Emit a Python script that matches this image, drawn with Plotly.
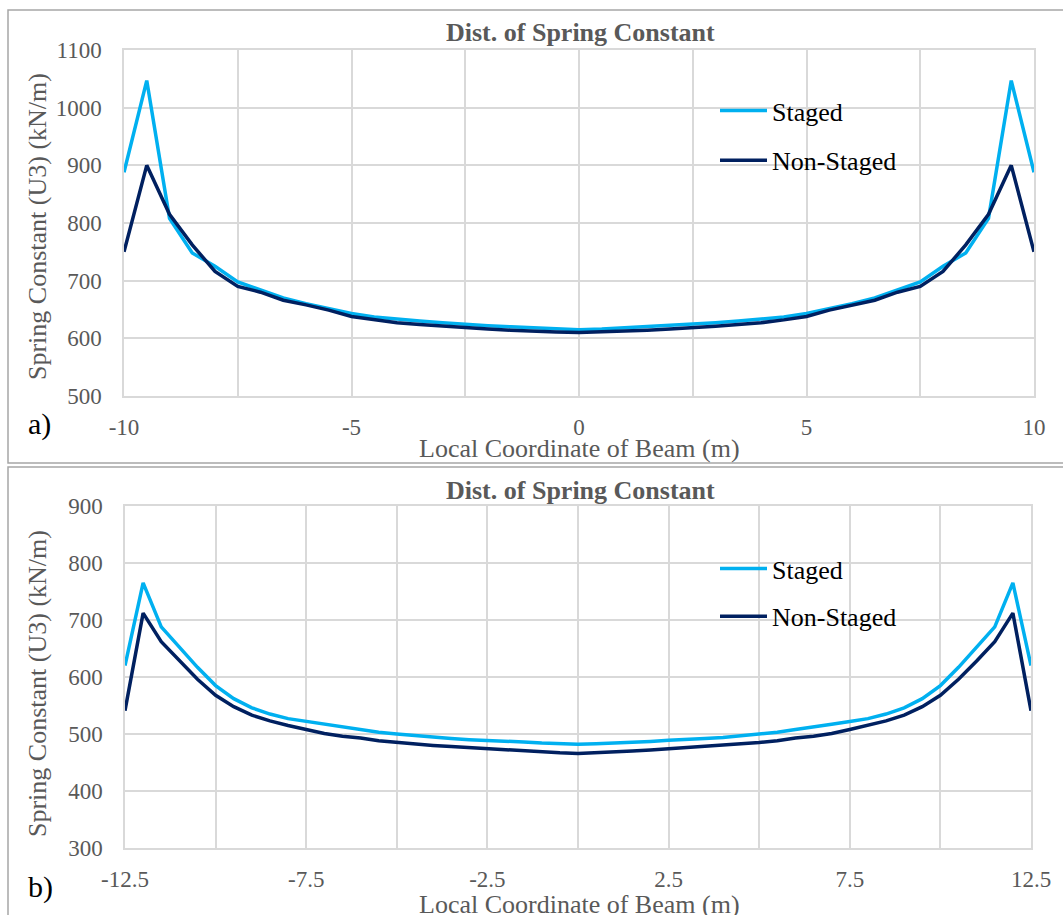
import plotly.graph_objects as go

# ---- Data (a) ----
x_a = [-10, -9.5, -9, -8.5, -8, -7.5, -7, -6.5, -6, -5.5, -5, -4.5, -4, -3.5, -3, -2.5, -2, -1.5, -1, -0.5,
       0, 0.5, 1, 1.5, 2, 2.5, 3, 3.5, 4, 4.5, 5, 5.5, 6, 6.5, 7, 7.5, 8, 8.5, 9, 9.5, 10]
staged_a = [888, 1047, 808, 748, 725, 698, 684, 670, 660, 651, 643, 637, 633, 630, 627, 624, 622, 620, 618, 616,
            615, 616, 618, 620, 622, 624, 627, 630, 633, 637, 643, 651, 660, 670, 684, 698, 725, 748, 808, 1047, 888]
nonstaged_a = [750, 900, 815, 762, 716, 690, 680, 666, 658, 649, 638, 632, 627, 624, 621, 618, 616, 614, 612, 611,
               610, 611, 612, 614, 616, 618, 621, 624, 627, 632, 638, 649, 658, 666, 680, 690, 716, 762, 815, 900, 750]
xtickvals_a = [-10, -5, 0, 5, 10]
xticktext_a = ["-10", "-5", "0", "5", "10"]

# ---- Data (b) ----
x_b = [-12.5, -12, -11.5, -11, -10.5, -10, -9.5, -9, -8.5, -8, -7.5, -7, -6.5, -6, -5.5, -5, -4.5, -4, -3.5, -3,
       -2.5, -2, -1.5, -1, -0.5, 0, 0.5, 1, 1.5, 2, 2.5, 3, 3.5, 4, 4.5, 5, 5.5, 6, 6.5, 7, 7.5, 8, 8.5, 9,
       9.5, 10, 10.5, 11, 11.5, 12, 12.5]
staged_b = [620, 765, 688, 652, 617, 585, 562, 546, 535, 527, 522, 517, 512, 508, 503, 500, 497, 494, 492, 490,
            489, 487, 486, 484, 483, 482, 483, 484, 486, 487, 489, 490, 492, 494, 497, 500, 503, 508, 512, 517,
            522, 527, 535, 546, 562, 585, 617, 652, 688, 765, 620]
nonstaged_b = [541, 712, 662, 628, 596, 568, 548, 533, 523, 515, 508, 501, 496, 493, 488, 485, 482, 480, 478, 476,
               474, 472, 470, 468, 467, 466, 467, 468, 470, 472, 474, 476, 478, 480, 482, 485, 488, 493, 496, 501,
               508, 515, 523, 533, 548, 568, 596, 628, 662, 712, 541]
xtickvals_b = [-12.5, -7.5, -2.5, 2.5, 7.5, 12.5]
xticktext_b = ["-12.5", "-7.5", "-2.5", "2.5", "7.5", "12.5"]

series_names = ["Staged", "Non-Staged"]
title_text = "Dist. of Spring Constant"
x_title = "Local Coordinate of Beam (m)"
y_title = "Spring Constant (U3) (kN/m)"

C_STAGED = "#00B0F0"
C_NON = "#002060"
GRID = "#D9D9D9"
GRAY = "#595959"
FONT = "Liberation Serif"

W, H = 1063, 915

def px(x):
    return x / W

def py(y):
    return 1 - y / H

fig = go.Figure()

fig.add_trace(go.Scatter(x=x_a, y=staged_a, mode="lines", name=series_names[0],
                         line=dict(color=C_STAGED, width=3.5), xaxis="x", yaxis="y",
                         legend="legend", legendgroup="a1"))
fig.add_trace(go.Scatter(x=x_a, y=nonstaged_a, mode="lines", name=series_names[1],
                         line=dict(color=C_NON, width=3.5), xaxis="x", yaxis="y",
                         legend="legend", legendgroup="a2"))
fig.add_trace(go.Scatter(x=x_b, y=staged_b, mode="lines", name=series_names[0],
                         line=dict(color=C_STAGED, width=3.5), xaxis="x2", yaxis="y2",
                         legend="legend2", legendgroup="b1"))
fig.add_trace(go.Scatter(x=x_b, y=nonstaged_b, mode="lines", name=series_names[1],
                         line=dict(color=C_NON, width=3.5), xaxis="x2", yaxis="y2",
                         legend="legend2", legendgroup="b2"))

tickfont = dict(family=FONT, size=23, color=GRAY)
titlefont = dict(family=FONT, size=26, color=GRAY)

def xaxis_cfg(domain, rng, tick0, tvals, ttext, anchor):
    return dict(domain=domain, range=rng, tickmode="array", tickvals=tvals, ticktext=ttext,
                showgrid=True, gridcolor=GRID, gridwidth=1.5, zeroline=False,
                showline=True, linecolor=GRID, linewidth=1.5, mirror=True,
                minor=dict(dtick=2.5, tick0=tick0, showgrid=True, gridcolor=GRID, gridwidth=1.5),
                tickfont=tickfont, ticks="", ticklabelstandoff=10,
                anchor=anchor, fixedrange=True, automargin=False)

def yaxis_cfg(domain, rng, anchor):
    return dict(domain=domain, range=rng, dtick=100, tickmode="linear",
                showgrid=True, gridcolor=GRID, gridwidth=1.5, zeroline=False,
                showline=True, linecolor=GRID, linewidth=1.5, mirror=True,
                tickfont=tickfont, ticks="", ticklabelstandoff=16,
                anchor=anchor, fixedrange=True, automargin=False)

LEG_W = 47
fig.update_layout(
    width=W, height=H,
    margin=dict(l=0, r=0, t=0, b=0),
    paper_bgcolor="white", plot_bgcolor="white",
    font=dict(family=FONT),
    xaxis=xaxis_cfg([px(124), px(1034)], [-10, 10], -10, xtickvals_a, xticktext_a, "y"),
    yaxis=yaxis_cfg([py(396), py(50)], [500, 1100], "x"),
    xaxis2=xaxis_cfg([px(125), px(1031)], [-12.5, 12.5], -12.5, xtickvals_b, xticktext_b, "y2"),
    yaxis2=yaxis_cfg([py(848), py(506)], [300, 900], "x2"),
    legend=dict(x=px(715), y=py(87), xanchor="left", yanchor="top",
                font=dict(family=FONT, size=26, color="black"),
                bgcolor="rgba(0,0,0,0)", tracegroupgap=13, traceorder="grouped",
                itemwidth=LEG_W),
    legend2=dict(x=px(715), y=py(545), xanchor="left", yanchor="top",
                 font=dict(family=FONT, size=26, color="black"),
                 bgcolor="rgba(0,0,0,0)", tracegroupgap=11, traceorder="grouped",
                 itemwidth=LEG_W),
    showlegend=True,
)

# titles and panel labels
for ty in (33, 491):
    fig.add_annotation(text="<b>" + title_text + "</b>", x=px(580), y=py(ty), xref="paper", yref="paper",
                       showarrow=False, font=dict(family=FONT, size=26, color=GRAY),
                       xanchor="center", yanchor="middle")
for ty in (449, 904):
    fig.add_annotation(text=x_title, x=px(579), y=py(ty), xref="paper", yref="paper",
                       showarrow=False, font=titlefont, xanchor="center", yanchor="middle")
for ty in (227, 684):
    fig.add_annotation(text=y_title, x=px(37), y=py(ty), xref="paper", yref="paper", textangle=-90,
                       showarrow=False, font=titlefont, xanchor="center", yanchor="middle")
fig.add_annotation(text="a)", x=px(26), y=py(424), xref="paper", yref="paper",
                   showarrow=False, font=dict(family=FONT, size=30, color="black"), xanchor="left", yanchor="middle")
fig.add_annotation(text="b)", x=px(26), y=py(887), xref="paper", yref="paper",
                   showarrow=False, font=dict(family=FONT, size=30, color="black"), xanchor="left", yanchor="middle")

# panel frames
fig.add_shape(type="rect", xref="paper", yref="paper", x0=px(8), x1=px(1070), y0=py(463), y1=py(10),
              line=dict(color="#A6A6A6", width=1.5), layer="below")
fig.add_shape(type="rect", xref="paper", yref="paper", x0=px(8), x1=px(1070), y0=py(925), y1=py(467),
              line=dict(color="#A6A6A6", width=1.5), layer="below")

fig.write_html("out.html")
